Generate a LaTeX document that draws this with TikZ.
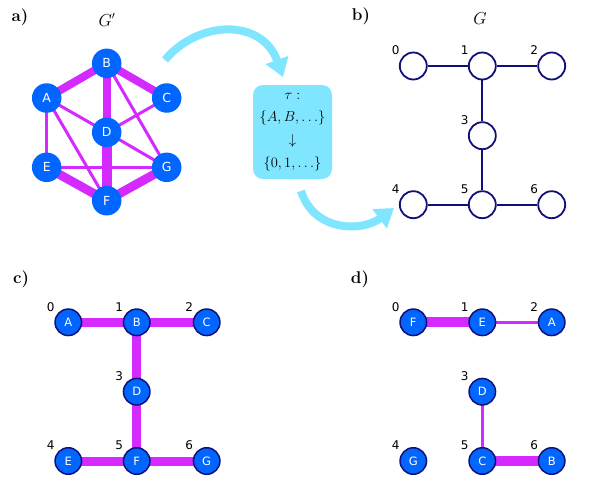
\documentclass[tikz,border=0pt]{standalone}
\usepackage{fontspec}
\newfontfamily\dejavu{DejaVu Sans}
\usetikzlibrary{arrows.meta,backgrounds}
\definecolor{nodeblue}{RGB}{0,102,255}
\definecolor{navy}{RGB}{16,16,120}
\definecolor{mag}{RGB}{212,42,255}
\definecolor{cyanl}{RGB}{128,229,255}
\begin{document}
\begin{tikzpicture}[x=1pt,y=-1pt,
 gnode/.style={circle,fill=nodeblue,text=white,minimum size=29.5pt,inner sep=0pt,font=\dejavu\fontsize{12.5}{12.5}\selectfont},
 cnode/.style={gnode,draw=navy,line width=1.5pt,minimum size=26.5pt,font=\dejavu\fontsize{11.5}{11.5}\selectfont},
 wnode/.style={circle,draw=navy,fill=white,line width=1.8pt,minimum size=27pt,inner sep=0pt},
 num/.style={font=\dejavu\fontsize{12}{12}\selectfont,text=black,inner sep=0pt},
 thickE/.style={mag,line width=9pt},
 thinE/.style={mag,line width=3pt},
 bedge/.style={navy,line width=1.8pt},
 panel/.style={font=\fontsize{17}{17}\selectfont\bfseries,inner sep=0pt},
 ttl/.style={font=\fontsize{16}{16}\selectfont,inner sep=0pt},
 bigarrow/.style={cyanl,line width=8pt,-{Triangle[width=23pt,length=18pt]}},
 box/.style={fill=cyanl,rounded corners=10pt,minimum width=79pt,minimum height=94pt,align=center,inner sep=0pt,font=\fontsize{15}{22.7}\selectfont}
]
\useasboundingbox (0,0) rectangle (590,491);

% panel labels
\node[panel] (la) at (20,17) {a)};
\node[panel] (lb) at (361,16) {b)};
\node[panel] (lc) at (21,279) {c)};
\node[panel] (ld) at (360,279) {d)};
\node[ttl] (tGp) at (107,20) {$G'$};
\node[ttl] (tG) at (480,19) {$G$};

% panel a
\node[gnode] (aB) at (106.7,63.3) {B};
\node[gnode] (aA) at (46.7,98) {A};
\node[gnode] (aC) at (166.7,98) {C};
\node[gnode] (aD) at (106.7,132.3) {D};
\node[gnode] (aE) at (46.7,167.3) {E};
\node[gnode] (aG) at (166.7,167.3) {G};
\node[gnode] (aF) at (106.7,200.7) {F};
\begin{scope}[on background layer]
 \draw[thinE] (aA.center) -- (aD.center);
 \draw[thinE] (aA.center) -- (aE.center);
 \draw[thinE] (aA.center) -- (aF.center);
 \draw[thinE] (aB.center) -- (aG.center);
 \draw[thinE] (aC.center) -- (aD.center);
 \draw[thinE] (aD.center) -- (aG.center);
 \draw[thinE] (aE.center) -- (aG.center);
 \draw[mag,line width=8pt] (aA.center) -- (aB.center);
 \draw[mag,line width=8pt] (aB.center) -- (aC.center);
 \draw[mag,line width=8pt] (aB.center) -- (aD.center);
 \draw[mag,line width=10pt] (aD.center) -- (aF.center);
 \draw[mag,line width=9pt] (aE.center) -- (aF.center);
 \draw[mag,line width=9pt] (aF.center) -- (aG.center);
\end{scope}

% arrows and box
\coordinate (s1) at (165,60);
\coordinate (t1) at (283,77);
\draw[bigarrow] (s1) .. controls (198,20) and (262,18) .. (t1);
\node[box] (tau) at (292.5,132) {$\tau:$\\$\{A,B,\ldots\}$\\$\downarrow$\\$\{0,1,\ldots\}$};
\coordinate (s2) at (301,191);
\coordinate (t2) at (394,208);
\draw[bigarrow] (s2) .. controls (314,232) and (362,232) .. (t2);

% panel b
\node[wnode] (b0) at (413.3,66) {};
\node[wnode] (b1) at (482.3,66) {};
\node[wnode] (b2) at (551.7,66) {};
\node[wnode] (b3) at (482.3,135.7) {};
\node[wnode] (b4) at (413.3,204.7) {};
\node[wnode] (b5) at (482.3,204.7) {};
\node[wnode] (b6) at (551.7,204.7) {};
\draw[bedge] (b0) -- (b1);
\draw[bedge] (b1) -- (b2);
\draw[bedge] (b1) -- (b3);
\draw[bedge] (b3) -- (b5);
\draw[bedge] (b4) -- (b5);
\draw[bedge] (b5) -- (b6);
\foreach \n/\t in {0/0,1/1,2/2,3/3,4/4,5/5,6/6}
  \node[num] (bl\n) at ([shift={(-17.6,-15.6)}]b\n.center) {\t};

% panel c
\node[cnode] (cA) at (68.3,322.3) {A};
\node[cnode] (cB) at (136.7,322.3) {B};
\node[cnode] (cC) at (206.7,322.3) {C};
\node[cnode] (cD) at (136.7,391.7) {D};
\node[cnode] (cE) at (68.3,461) {E};
\node[cnode] (cF) at (136.7,461) {F};
\node[cnode] (cG) at (206.7,461) {G};
\begin{scope}[on background layer]
 \draw[thickE] (cA.center) -- (cB.center);
 \draw[thickE] (cB.center) -- (cC.center);
 \draw[thickE] (cB.center) -- (cD.center);
 \draw[thickE] (cD.center) -- (cF.center);
 \draw[thickE] (cE.center) -- (cF.center);
 \draw[thickE] (cF.center) -- (cG.center);
\end{scope}
\foreach \n/\t in {A/0,B/1,C/2,D/3,E/4,F/5,G/6}
  \node[num] (cl\n) at ([shift={(-17.6,-15.6)}]c\n.center) {\t};

% panel d
\node[cnode] (dF) at (413.3,322.3) {F};
\node[cnode] (dE) at (482.3,322.3) {E};
\node[cnode] (dA) at (551.7,322.3) {A};
\node[cnode] (dD) at (482.3,391.7) {D};
\node[cnode] (dG) at (413.3,461) {G};
\node[cnode] (dC) at (482.3,461) {C};
\node[cnode] (dB) at (551.7,461) {B};
\begin{scope}[on background layer]
 \draw[mag,line width=10pt] (dF.center) -- (dE.center);
 \draw[mag,line width=3pt] (dE.center) -- (dA.center);
 \draw[mag,line width=2.5pt] (dD.center) -- (dC.center);
 \draw[mag,line width=10pt] (dC.center) -- (dB.center);
\end{scope}
\foreach \n/\t in {F/0,E/1,A/2,D/3,G/4,C/5,B/6}
  \node[num] (dl\n) at ([shift={(-17.6,-15.6)}]d\n.center) {\t};
\end{tikzpicture}
\end{document}
